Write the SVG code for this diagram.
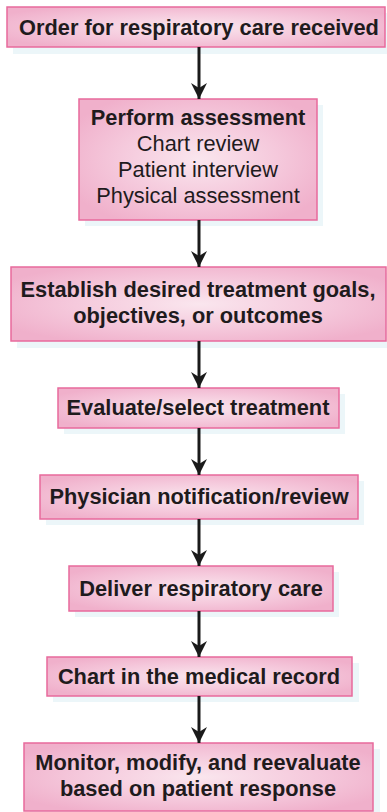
<svg xmlns="http://www.w3.org/2000/svg" width="387" height="812" viewBox="0 0 387 812">
  <defs>
    <radialGradient id="boxFill" cx="0.5" cy="0.5" r="0.6">
      <stop offset="0" stop-color="#fae6ee"/>
      <stop offset="0.55" stop-color="#f5c9dc"/>
      <stop offset="1" stop-color="#f0b0cb"/>
    </radialGradient>
    <!-- swept-back arrowhead, drawn pointing along +x so orient="auto" turns it down the line -->
    <marker id="head" viewBox="0 0 16 18" refX="16" refY="9" markerWidth="16" markerHeight="18" markerUnits="userSpaceOnUse" orient="auto">
      <path d="M16 9 L0 1 L5 9 L0 17 Z" fill="#1a1a1a"/>
    </marker>
  </defs>
  <style>
    .shadow { fill: #ecf6f9; }
    .box { fill: url(#boxFill); stroke: #e86a9c; stroke-width: 1.5; }
    .t { font-family: "Liberation Sans", Arial, sans-serif; font-size: 21.8px; fill: #1f1b1d; text-anchor: middle; }
    .b { font-weight: bold; }
    .link { stroke: #1a1a1a; stroke-width: 3; fill: none; }
  </style>
  <rect width="387" height="812" fill="#ffffff"/>

  <g id="n1">
    <rect class="shadow" x="13" y="13" width="374" height="41"/>
    <rect class="box" x="7" y="7" width="378" height="40"/>
    <text class="t b" x="199" y="35">Order for respiratory care received</text>
  </g>

  <g id="n2">
    <rect class="shadow" x="85" y="105" width="238" height="121"/>
    <rect class="box" x="79" y="99" width="238" height="121"/>
    <text class="t b" x="198" y="125">Perform assessment</text>
    <text class="t" x="198" y="151">Chart review</text>
    <text class="t" x="198" y="177">Patient interview</text>
    <text class="t" x="198" y="203">Physical assessment</text>
  </g>

  <g id="n3">
    <rect class="shadow" x="17" y="273" width="370" height="75"/>
    <rect class="box" x="11" y="267" width="375" height="74"/>
    <text class="t b" x="198" y="297">Establish desired treatment goals,</text>
    <text class="t b" x="198" y="323">objectives, or outcomes</text>
  </g>

  <g id="n4">
    <rect class="shadow" x="64" y="394" width="281" height="40"/>
    <rect class="box" x="58" y="388" width="281" height="40"/>
    <text class="t b" x="198" y="415">Evaluate/select treatment</text>
  </g>

  <g id="n5">
    <rect class="shadow" x="46" y="481" width="318" height="44"/>
    <rect class="box" x="40" y="475" width="318" height="44"/>
    <text class="t b" x="199" y="504">Physician notification/review</text>
  </g>

  <g id="n6">
    <rect class="shadow" x="75" y="572" width="264" height="45"/>
    <rect class="box" x="69" y="566" width="264" height="45"/>
    <text class="t b" x="201" y="596">Deliver respiratory care</text>
  </g>

  <g id="n7">
    <rect class="shadow" x="53" y="663" width="306" height="39"/>
    <rect class="box" x="47" y="657" width="305" height="39"/>
    <text class="t b" x="199" y="684">Chart in the medical record</text>
  </g>

  <g id="n8">
    <rect class="shadow" x="30" y="749" width="350" height="63"/>
    <rect class="box" x="24" y="743" width="349" height="68"/>
    <text class="t b" x="198" y="770">Monitor, modify, and reevaluate</text>
    <text class="t b" x="198" y="796">based on patient response</text>
  </g>

  <g id="connectors">
    <line class="link" x1="199" y1="47" x2="199" y2="99" marker-end="url(#head)"/>
    <line class="link" x1="199" y1="220" x2="199" y2="267" marker-end="url(#head)"/>
    <line class="link" x1="199" y1="341" x2="199" y2="388" marker-end="url(#head)"/>
    <line class="link" x1="199" y1="428" x2="199" y2="475" marker-end="url(#head)"/>
    <line class="link" x1="199" y1="519" x2="199" y2="566" marker-end="url(#head)"/>
    <line class="link" x1="199" y1="611" x2="199" y2="657" marker-end="url(#head)"/>
    <line class="link" x1="199" y1="696" x2="199" y2="743" marker-end="url(#head)"/>
  </g>
</svg>
